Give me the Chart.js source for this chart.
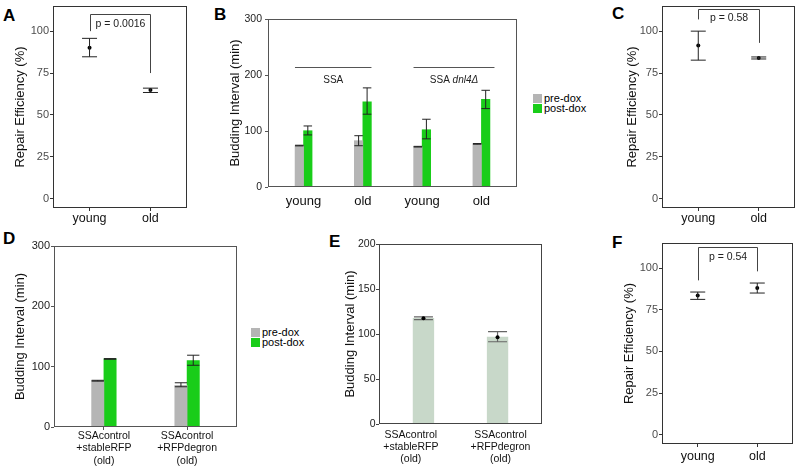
<!DOCTYPE html>
<html><head><meta charset="utf-8">
<script src="https://cdn.jsdelivr.net/npm/chart.js@4/dist/chart.umd.min.js"></script>
<style>
html,body{margin:0;padding:0;background:#fff;}
body{width:800px;height:472px;overflow:hidden;position:relative;font-family:"Liberation Sans",Arial,Helvetica,sans-serif;}
canvas{position:absolute;}
.lbl{position:absolute;font-weight:bold;font-size:17px;line-height:17px;color:#000;}
.leg{position:absolute;font-size:11px;color:#000;}
.leg .row{display:flex;align-items:center;height:10px;line-height:10px;}
.leg .sw{display:inline-block;width:9px;height:9px;margin-right:2px;}
</style></head><body>
<div class="lbl" style="left:3px;top:7px">A</div>
<div class="lbl" style="left:214px;top:5.5px">B</div>
<div class="lbl" style="left:612px;top:5px">C</div>
<div class="lbl" style="left:3px;top:229.5px">D</div>
<div class="lbl" style="left:329px;top:233px">E</div>
<div class="lbl" style="left:612px;top:234px">F</div>
<div class="leg" style="left:533px;top:93px">
  <div class="row"><span class="sw" style="background:#b5b5b5"></span>pre-dox</div>
  <div class="row"><span class="sw" style="background:#19cd19"></span>post-dox</div>
</div>
<div class="leg" style="left:251px;top:327px">
  <div class="row"><span class="sw" style="background:#b5b5b5"></span>pre-dox</div>
  <div class="row"><span class="sw" style="background:#19cd19"></span>post-dox</div>
</div>
<script>
// ---------------- DATA ----------------
const ageLabels = ['young', 'old'];
const effTicks = [0, 25, 50, 75, 100];
const budTicks = [0, 100, 200, 300];
const budTicksE = [0, 50, 100, 150, 200];
const seriesNames = ['pre-dox', 'post-dox'];

// Panel A (Repair Efficiency %)
const aMean = [90.1, 64.9];
const aLow  = [84.7, 63.4];
const aHigh = [95.7, 66.0];
const aP = 'p = 0.0016';

// Panel C
const cMean = [91.5, 84.0];
const cLow  = [82.7, 83.4];
const cHigh = [100.0, 84.6];
const cP = 'p = 0.58';

// Panel F
const fMean = [83.6, 88.0];
const fLow  = [81.2, 85.0];
const fHigh = [85.6, 91.0];
const fP = 'p = 0.54';

// Panel B (Budding interval, min)
const bLabels   = ['young', 'old', 'young', 'old'];
const bPre      = [74.0, 82.7, 72.0, 77.0];
const bPreLow   = [73.4, 73.7, 71.4, 76.4];
const bPreHigh  = [74.6, 91.6, 72.6, 77.6];
const bPost     = [100.5, 152.0, 102.3, 156.6];
const bPostLow  = [93.0, 130.0, 86.0, 140.0];
const bPostHigh = [109.0, 177.0, 121.0, 172.7];
const bGroupNames = [['SSA', ''], ['SSA ', 'dnl4\u0394']];

// Panel D
const dLabels   = [['SSAcontrol', '+stableRFP', '(old)'], ['SSAcontrol', '+RFPdegron', '(old)']];
const dPre      = [76.7, 69.0];
const dPreLow   = [76.0, 66.7];
const dPreHigh  = [77.4, 73.3];
const dPost     = [112.8, 110.0];
const dPostLow  = [112.2, 102.3];
const dPostHigh = [113.4, 119.0];

// Panel E
const eLabels = dLabels;
const eMean = [117.5, 96.5];
const eLow  = [116.0, 91.4];
const eHigh = [119.0, 102.6];

// ---------------- SETUP ----------------
const FONT = '"Liberation Sans", Arial, Helvetica, sans-serif';
Chart.defaults.font.family = FONT;
Chart.defaults.animation = false;
Chart.defaults.plugins.legend.display = false;
Chart.defaults.plugins.tooltip.enabled = false;

const GRAY = '#b5b5b5', GREEN = '#19cd19', SAGE = '#c8d8c9';

const boxPlugin = {
  id: 'box',
  afterDraw(chart, args, o) {
    if (!o.color) return;
    const a = chart.chartArea, ctx = chart.ctx;
    ctx.save();
    ctx.strokeStyle = o.color; ctx.lineWidth = 1;
    ctx.strokeRect(Math.round(a.left) + 0.5, Math.round(a.top) + 0.5,
                   Math.round(a.right - a.left) - 1, Math.round(a.bottom - a.top) - 1);
    ctx.restore();
  }
};
const errPlugin = {
  id: 'errbars',
  afterDatasetsDraw(chart, args, o) {
    if (!o.sets) return;
    const ctx = chart.ctx, ys = chart.scales.y;
    ctx.save();
    o.sets.forEach(s => {
      const meta = chart.getDatasetMeta(s.dataset);
      meta.data.forEach((el, i) => {
        const x = el.x;
        const y1 = ys.getPixelForValue(s.low[i]), y2 = ys.getPixelForValue(s.high[i]);
        const hw = (s.cap != null ? s.cap : el.width) / 2;
        ctx.strokeStyle = s.color; ctx.lineWidth = s.width || 1;
        ctx.beginPath();
        ctx.moveTo(x, y1); ctx.lineTo(x, y2);
        ctx.moveTo(x - hw, y1); ctx.lineTo(x + hw, y1);
        ctx.moveTo(x - hw, y2); ctx.lineTo(x + hw, y2);
        ctx.stroke();
        if (s.dots) {
          ctx.fillStyle = '#000';
          ctx.beginPath();
          ctx.arc(x, ys.getPixelForValue(s.dots[i]), 2, 0, Math.PI * 2);
          ctx.fill();
        }
      });
    });
    ctx.restore();
  }
};
const bracketPlugin = {
  id: 'bracket',
  afterDatasetsDraw(chart, args, o) {
    if (!o.text) return;
    const ctx = chart.ctx, xs = chart.scales.x, ys = chart.scales.y;
    const x1 = Math.round(xs.getPixelForValue(o.x[0])) + 0.5, x2 = Math.round(xs.getPixelForValue(o.x[1])) + 0.5;
    const yt = Math.round(ys.getPixelForValue(o.top)) + 0.5;
    ctx.save();
    ctx.strokeStyle = '#444'; ctx.lineWidth = 1;
    ctx.beginPath();
    ctx.moveTo(x1, ys.getPixelForValue(o.left));
    ctx.lineTo(x1, yt); ctx.lineTo(x2, yt);
    ctx.lineTo(x2, ys.getPixelForValue(o.right));
    ctx.stroke();
    ctx.fillStyle = '#222';
    ctx.font = '10.5px ' + FONT;
    ctx.textAlign = 'center'; ctx.textBaseline = 'middle';
    ctx.fillText(o.text, (x1 + x2) / 2, ys.getPixelForValue(o.textY));
    ctx.restore();
  }
};
const groupPlugin = {
  id: 'groups',
  afterDatasetsDraw(chart, args, o) {
    if (!o.items) return;
    const ctx = chart.ctx, xs = chart.scales.x, ys = chart.scales.y;
    ctx.save();
    o.items.forEach(g => {
      const x1 = xs.getPixelForValue(g.from), x2 = xs.getPixelForValue(g.to);
      const y = Math.round(ys.getPixelForValue(g.y)) + 0.5;
      ctx.strokeStyle = '#555'; ctx.lineWidth = 1;
      ctx.beginPath(); ctx.moveTo(x1, y); ctx.lineTo(x2, y); ctx.stroke();
      const nf = '10px ' + FONT, itf = 'italic 10px ' + FONT;
      ctx.font = nf; const w1 = ctx.measureText(g.name[0]).width;
      ctx.font = itf; const w2 = ctx.measureText(g.name[1]).width;
      let sx = (x1 + x2) / 2 - (w1 + w2) / 2;
      const ty = ys.getPixelForValue(g.textY);
      ctx.fillStyle = '#222'; ctx.textAlign = 'left'; ctx.textBaseline = 'middle';
      ctx.font = nf; ctx.fillText(g.name[0], sx, ty);
      ctx.font = itf; ctx.fillText(g.name[1], sx + w1, ty);
    });
    ctx.restore();
  }
};
Chart.register(boxPlugin, errPlugin, bracketPlugin, groupPlugin);

function mkCanvas(g) {
  const c = document.createElement('canvas');
  c.width = g.W; c.height = g.H;
  c.style.left = g.L + 'px'; c.style.top = g.T + 'px';
  c.style.width = g.W + 'px'; c.style.height = g.H + 'px';
  document.body.appendChild(c);
  return c;
}
function baseOptions(g) {
  return {
    responsive: false, devicePixelRatio: 1, animation: false,
    layout: { padding: { left: 0, top: g.area.t - g.T, right: g.L + g.W - g.area.r, bottom: 0 } }
  };
}
function yScale(g, min, max, ticks, title, o) {
  return {
    type: 'linear', position: 'left', min: min, max: max,
    afterBuildTicks(s) { s.ticks = ticks.map(v => ({ value: v })); },
    afterFit(s) { s.width = g.area.l - g.L; s.paddingTop = 0; s.paddingBottom = 0; },
    ticks: { font: { size: o.tickSize }, color: o.tickColor, padding: o.tickPad, autoSkip: false },
    grid: { drawOnChartArea: false, drawTicks: true, tickLength: 3, color: o.axisColor, lineWidth: 1 },
    border: { display: false },
    title: { display: true, text: title, font: { size: 13 }, color: '#111',
             padding: { top: g.titleX - g.L - 7.8, bottom: 0 } }
  };
}
function xScale(g, min, max, labels, o) {
  const vals = o.vals || labels.map((_, i) => o.first + i);
  return {
    type: 'linear', position: 'bottom', min: min, max: max, offset: false,
    afterBuildTicks(s) { s.ticks = vals.map(v => ({ value: v })); },
    afterFit(s) { s.height = g.T + g.H - g.area.b; s.paddingLeft = 0; s.paddingRight = 0; },
    ticks: { callback: (v, i) => labels[i], font: { size: o.size, lineHeight: o.lh || 1.2 },
             color: '#111', padding: o.pad, autoSkip: false, maxRotation: 0, minRotation: 0 },
    grid: { offset: false, drawOnChartArea: false, drawTicks: o.ticks, tickLength: 3, color: o.axisColor },
    border: { display: false }
  };
}

// ---------- Efficiency panels (A, C, F) ----------
function effChart(g, mean, low, high, br) {
  const opts = baseOptions(g);
  opts.scales = {
    x: xScale(g, 0.4, 2.6, ageLabels, { first: 1, size: 12.5, pad: g.xpad, ticks: true, axisColor: '#333' }),
    y: yScale(g, -5.5, 115, effTicks, 'Repair Efficiency (%)', { tickSize: 11, tickColor: '#4d4d4d', tickPad: 1, axisColor: '#333' })
  };
  opts.plugins = {
    box: { color: '#333' },
    errbars: { sets: [{ dataset: 0, low: low, high: high, cap: 15, color: '#222', width: 1 }] },
    bracket: br
  };
  new Chart(mkCanvas(g), {
    type: 'scatter',
    data: { datasets: [{ data: mean.map((v, i) => ({ x: i + 1, y: v })), pointRadius: 2, pointBackgroundColor: '#000', pointBorderWidth: 0 }] },
    options: opts
  });
}
effChart({ L: 0, T: 0, W: 192, H: 228, area: { l: 53, t: 6, r: 187, b: 208 }, titleX: 20.8, xpad: 0 },
  aMean, aLow, aHigh, { text: aP, x: [1, 2], top: 110.3, left: 100, right: 75, textY: 104 });
effChart({ L: 600, T: 0, W: 200, H: 228, area: { l: 662, t: 6, r: 795, b: 208 }, titleX: 632, xpad: 0 },
  cMean, cLow, cHigh, { text: cP, x: [1, 2], top: 113, left: 107, right: 93, textY: 107.5 });
effChart({ L: 600, T: 232, W: 200, H: 240, area: { l: 662, t: 243, r: 793, b: 444 }, titleX: 629.5, xpad: 2 },
  fMean, fLow, fHigh, { text: fP, x: [1, 2], top: 112.6, left: 92.6, right: 98, textY: 106.6 });

// ---------- Panel B ----------
(function () {
  const g = { L: 195, T: 0, W: 325, H: 212, area: { l: 268, t: 19, r: 517, b: 187 }, titleX: 235 };
  const opts = baseOptions(g);
  opts.scales = {
    x: xScale(g, -0.6, 3.6, bLabels, { first: 0, size: 13, pad: 6.5, ticks: false, axisColor: '#555' }),
    y: yScale(g, 0, 300, budTicks, 'Budding Interval (min)', { tickSize: 10.5, tickColor: '#222', tickPad: 3, axisColor: '#555' })
  };
  opts.plugins = {
    box: { color: '#555' },
    errbars: { sets: [
      { dataset: 0, low: bPreLow, high: bPreHigh, color: '#222', width: 1 },
      { dataset: 1, low: bPostLow, high: bPostHigh, color: '#222', width: 1 }
    ] },
    groups: { items: [
      { name: bGroupNames[0], from: -0.145, to: 1.145, y: 214, textY: 191 },
      { name: bGroupNames[1], from: 1.855, to: 3.22, y: 214, textY: 191 }
    ] }
  };
  new Chart(mkCanvas(g), {
    type: 'bar',
    data: { datasets: [
      { label: seriesNames[0], data: bPre.map((v, i) => ({ x: i, y: v })), backgroundColor: GRAY, barThickness: 8.5 },
      { label: seriesNames[1], data: bPost.map((v, i) => ({ x: i, y: v })), backgroundColor: GREEN, barThickness: 8.5 }
    ] },
    options: opts
  });
})();

// ---------- Panel D ----------
(function () {
  const g = { L: 0, T: 232, W: 242, H: 240, area: { l: 54, t: 246, r: 237, b: 427 }, titleX: 20.8 };
  const opts = baseOptions(g);
  opts.scales = {
    x: xScale(g, -0.6, 1.6, dLabels, { first: 0, size: 10.5, lh: 1.17, pad: 0, ticks: true, axisColor: '#555' }),
    y: yScale(g, 0, 300, budTicks, 'Budding Interval (min)', { tickSize: 11, tickColor: '#222', tickPad: 1, axisColor: '#555' })
  };
  opts.plugins = {
    box: { color: '#555' },
    errbars: { sets: [
      { dataset: 0, low: dPreLow, high: dPreHigh, color: '#222', width: 1 },
      { dataset: 1, low: dPostLow, high: dPostHigh, color: '#222', width: 1 }
    ] }
  };
  new Chart(mkCanvas(g), {
    type: 'bar',
    data: { datasets: [
      { label: seriesNames[0], data: dPre.map((v, i) => ({ x: i, y: v })), backgroundColor: GRAY, barThickness: 12.3 },
      { label: seriesNames[1], data: dPost.map((v, i) => ({ x: i, y: v })), backgroundColor: GREEN, barThickness: 12.3 }
    ] },
    options: opts
  });
})();

// ---------- Panel E ----------
(function () {
  const g = { L: 310, T: 232, W: 235, H: 240, area: { l: 379, t: 244, r: 542, b: 424 }, titleX: 350.5 };
  const opts = baseOptions(g);
  opts.scales = {
    x: xScale(g, -0.6, 1.6, eLabels, { vals: [-0.17, 1.04], size: 10.5, lh: 1.17, pad: 4.5, ticks: false, axisColor: '#444' }),
    y: yScale(g, 0, 200, budTicksE, 'Budding Interval (min)', { tickSize: 10.5, tickColor: '#222', tickPad: 0.5, axisColor: '#444' })
  };
  opts.plugins = {
    box: { color: '#444' },
    errbars: { sets: [{ dataset: 0, low: eLow, high: eHigh, cap: 19, color: '#666', width: 1.2, dots: eMean }] }
  };
  new Chart(mkCanvas(g), {
    type: 'bar',
    data: { datasets: [
      { label: 'budding interval', data: eMean.map((v, i) => ({ x: i, y: v })), backgroundColor: SAGE, barThickness: 20.7 }
    ] },
    options: opts
  });
})();
</script>
</body></html>
